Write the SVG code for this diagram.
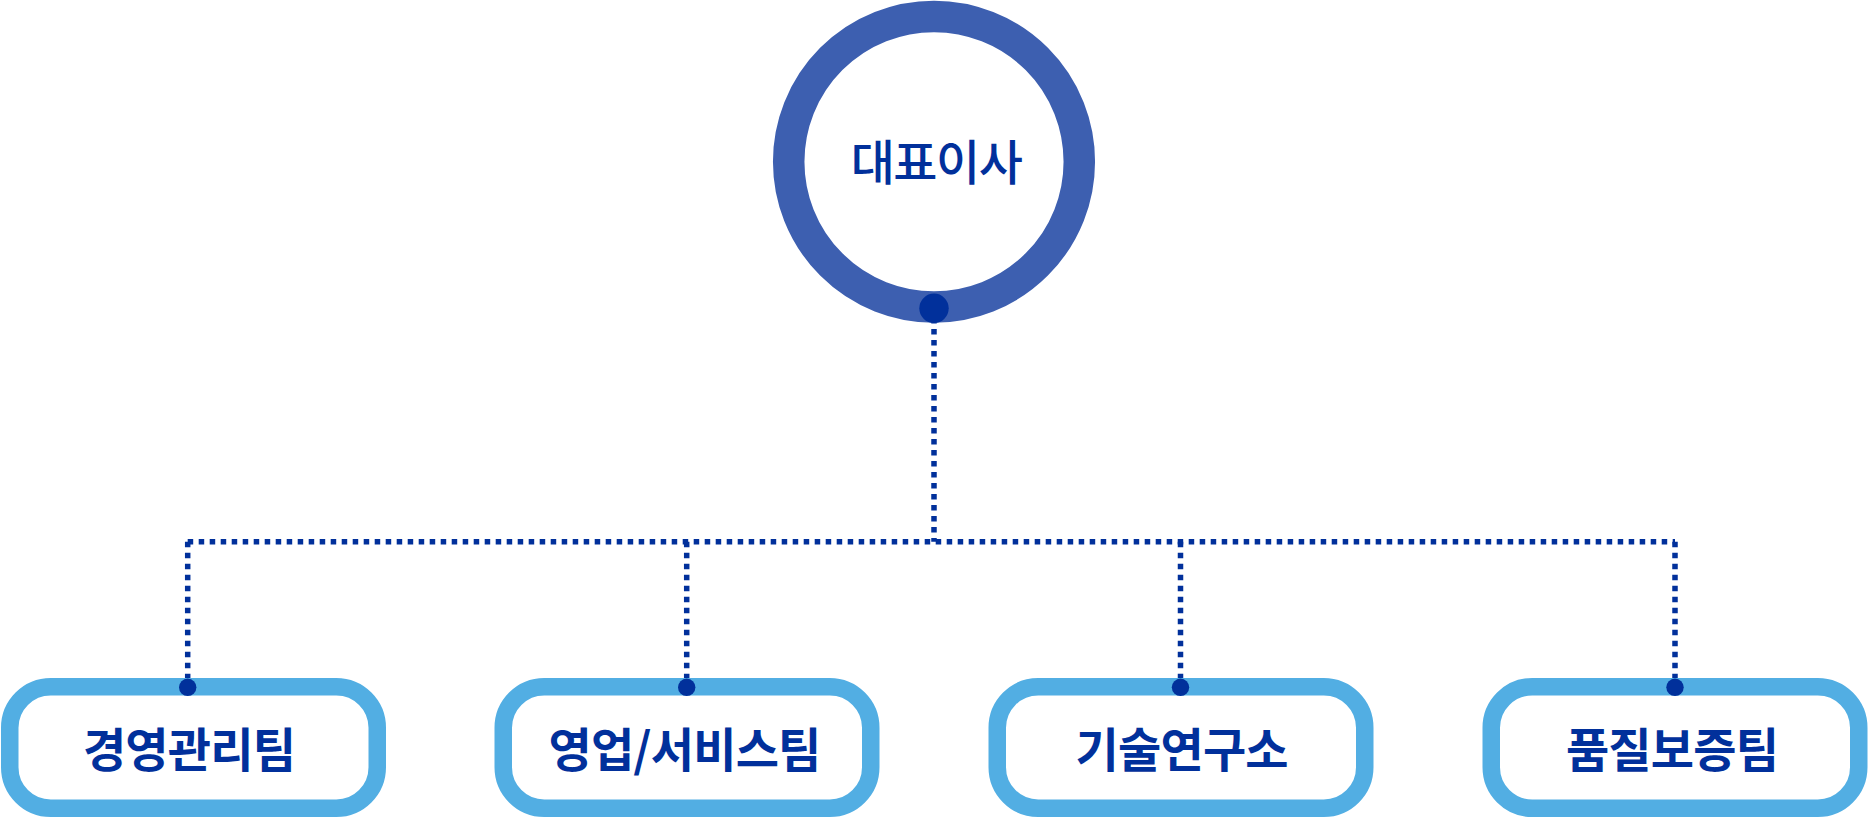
<svg xmlns="http://www.w3.org/2000/svg" width="1868" height="818" viewBox="0 0 1868 818">
  <style>
    .ring { fill: #ffffff; stroke: #3D5FB0; stroke-width: 31.5; }
    .box { fill: #ffffff; stroke: #52AEE3; stroke-width: 17.5; }
    .dot { fill: #01309B; }
    .conn { fill: none; stroke: #01309B; stroke-width: 5.5; stroke-dasharray: 5.5 5.5; }
    .lbl { font-family: "Noto Sans CJK KR", "Noto Sans", sans-serif; fill: #01309B; text-anchor: middle; }
    .ceo { font-size: 48px; font-weight: 500; letter-spacing: -1.5px; }
    .team { font-size: 47px; font-weight: 700; letter-spacing: -0.8px; }
  </style>
  <rect width="1868" height="818" fill="#ffffff"/>
  <g id="connectors">
    <path class="conn" d="M934 318 V541.7"/>
    <path class="conn" d="M187.7 541.7 H1675"/>
    <path class="conn" d="M187.7 541.7 V680"/>
    <path class="conn" d="M686.7 541.7 V680"/>
    <path class="conn" d="M1180.5 541.7 V680"/>
    <path class="conn" d="M1675 541.7 V680"/>
  </g>
  <g id="ceo">
    <circle class="ring" cx="934" cy="161.7" r="145.3"/>
    <text class="lbl ceo" x="936" y="180">대표이사</text>
    <circle class="dot" cx="934" cy="308.3" r="14.7"/>
  </g>
  <g id="team1">
    <rect class="box" x="9.75" y="686.75" width="367.5" height="121.5" rx="41" ry="41"/>
    <text class="lbl team" x="189" y="767">경영관리팀</text>
    <circle class="dot" cx="187.7" cy="687.3" r="8.7"/>
  </g>
  <g id="team2">
    <rect class="box" x="503.25" y="686.75" width="367.5" height="121.5" rx="41" ry="41"/>
    <text class="lbl team" x="684.5" y="767">영업/서비스팀</text>
    <circle class="dot" cx="686.7" cy="687.3" r="8.7"/>
  </g>
  <g id="team3">
    <rect class="box" x="997.25" y="686.75" width="367.5" height="121.5" rx="41" ry="41"/>
    <text class="lbl team" x="1181.7" y="767">기술연구소</text>
    <circle class="dot" cx="1180.5" cy="687.3" r="8.7"/>
  </g>
  <g id="team4">
    <rect class="box" x="1491.25" y="686.75" width="367.5" height="121.5" rx="41" ry="41"/>
    <text class="lbl team" x="1672" y="767">품질보증팀</text>
    <circle class="dot" cx="1675" cy="687.3" r="8.7"/>
  </g>
</svg>
